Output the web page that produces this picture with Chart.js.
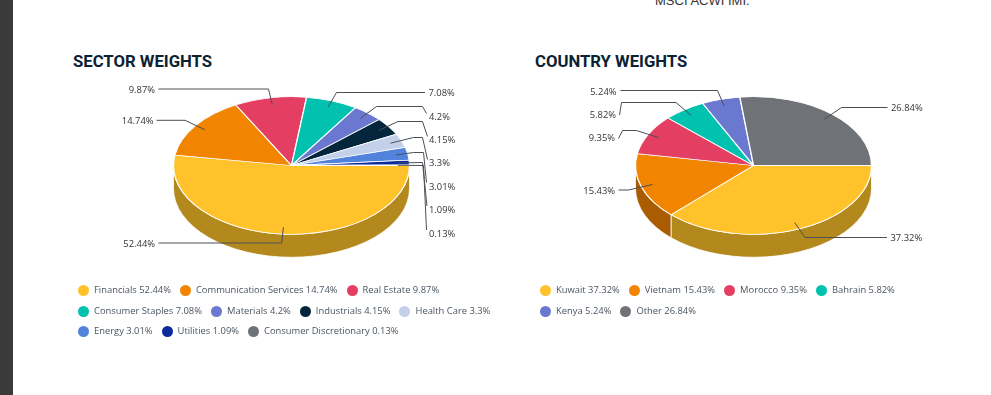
<!DOCTYPE html>
<html lang="en">

<head>
    <meta charset="UTF-8">
    <title>Sector and country weights</title>
    <style>
        html, body { margin: 0; padding: 0; background: #fff; }
        body { position: relative; width: 991px; height: 395px; overflow: hidden; }
        #strip { position: absolute; left: 0; top: 0; width: 13px; height: 395px; background: #3a3a3a; }
        #note { position: absolute; left: 655px; top: -7px; font: 13px "Liberation Sans", Arial, sans-serif; color: #333; white-space: nowrap; }
        h2 { position: absolute; top: 52px; margin: 0; font: 700 16.7px/20px Roboto, sans-serif; color: #0b2233; white-space: nowrap; }
        #sectorTitle { left: 73px; }
        #countryTitle { left: 535px; }
        .pieBox { position: absolute; top: 41px; width: 459px; height: 249px; }
        .legend { position: absolute; top: 280px; display: flex; flex-wrap: wrap; font: 9.4px/20.7px "Open Sans", sans-serif; color: #4a5560; }
        .legend span { display: flex; align-items: center; margin-right: 9px; white-space: nowrap; }
        .legend i { width: 11px; height: 11px; border-radius: 50%; margin-right: 5px; }
        #sectorLegend { left: 78px; width: 432px; }
        #countryLegend { left: 540px; width: 400px; }
    </style>
</head>

<body>
    <div id="strip"></div>
    <div id="note">MSCI ACWI IMI.</div>
    <h2 id="sectorTitle">SECTOR WEIGHTS</h2>
    <h2 id="countryTitle">COUNTRY WEIGHTS</h2>
    <div class="pieBox" style="left:62px"><canvas id="sectorChart"></canvas></div>
    <div class="pieBox" style="left:524px"><canvas id="countryChart"></canvas></div>
    <div class="legend" id="sectorLegend"></div>
    <div class="legend" id="countryLegend"></div>

    <script src="https://cdn.jsdelivr.net/npm/chart.js@4"></script>
    <script type="text/javascript">
        var sectorLabels = ['Financials', 'Communication Services', 'Real Estate', 'Consumer Staples', 'Materials', 'Industrials', 'Health Care', 'Energy', 'Utilities', 'Consumer Discretionary'];
        var sectorValues = [52.44, 14.74, 9.87, 7.08, 4.2, 4.15, 3.3, 3.01, 1.09, 0.13];
        var sectorColors = ['#ffc22a', '#f18500', '#e43f63', '#00c2ae', '#6b78d0', '#03263c', '#c3d0ea', '#5183dd', '#0a2a9d', '#6f7377'];

        var countryLabels = ['Kuwait', 'Vietnam', 'Morocco', 'Bahrain', 'Kenya', 'Other'];
        var countryValues = [37.32, 15.43, 9.35, 5.82, 5.24, 26.84];
        var countryColors = ['#ffc22a', '#f18500', '#e43f63', '#00c2ae', '#6b78d0', '#6f7377'];

        //where the callout texts sit, measured from the middle of the pie
        var sectorCallouts = [
            { x: -136.5, y: 79, align: 'right', bends: [[-9.8, 77.5], [-133, 77.5]] },
            { x: -138, y: -44, align: 'right', bends: [[-106.5, -45.2], [-135, -45.2]] },
            { x: -136.5, y: -75, align: 'right', bends: [[-23, -76.5], [-133, -76.5]] },
            { x: 137, y: -72, align: 'left', bends: [[45, -73], [133.5, -73]] },
            { x: 137.5, y: -48, align: 'left', bends: [[85, -59], [131, -59], [135, -52]] },
            { x: 137.5, y: -25, align: 'left', bends: [[106.5, -44], [131, -44], [136, -29]] },
            { x: 137.5, y: -2, align: 'left', bends: [[122, -28], [131, -28], [136, -6]] },
            { x: 137.5, y: 22, align: 'left', bends: [[122, -13], [132, -13], [135, 17]] },
            { x: 137.5, y: 45, align: 'left', bends: [[131, -3], [135.5, 40.5]] },
            { x: 137.5, y: 69, align: 'left', bends: [[132, 0], [135, 64.5]] }
        ];
        var countryCallouts = [
            { x: 137, y: 73, align: 'left', bends: [[51.5, 72], [133.5, 72]] },
            { x: -138.5, y: 26, align: 'right', bends: [[-125, 24.5], [-135, 24.5]] },
            { x: -138.5, y: -27, align: 'right', bends: [[-117, -35], [-131, -35], [-135, -27]] },
            { x: -137.5, y: -50, align: 'right', bends: [[-77.5, -63], [-132, -63], [-134, -50.5]] },
            { x: -137, y: -73, align: 'right', bends: [[-36, -75], [-133, -75]] },
            { x: 137.5, y: -57, align: 'left', bends: [[88, -58], [134, -58]] }
        ];

        var TILT = 0.583;   //height of the ellipse against its width
        var DEPTH = 23;     //thickness of the pie in px

        function darker(hex) {
            var n = parseInt(hex.slice(1), 16);
            var r = Math.round((n >> 16) * 0.7), g = Math.round(((n >> 8) & 255) * 0.7), b = Math.round((n & 255) * 0.7);
            return 'rgb(' + r + ',' + g + ',' + b + ')';
        }

        var pie3d = {
            id: 'pie3d',
            beforeDatasetDraw: function (chart) {
                var ctx = chart.ctx;
                var arcs = chart.getDatasetMeta(0).data;
                //side wall, only the front half of each slice shows
                arcs.forEach(function (arc, i) {
                    var a0 = Math.max(arc.startAngle, 0), a1 = Math.min(arc.endAngle, Math.PI);
                    if (a1 <= a0) return;
                    var r = arc.outerRadius;
                    ctx.beginPath();
                    ctx.ellipse(arc.x, arc.y, r, r * TILT, 0, a0, a1);
                    ctx.ellipse(arc.x, arc.y + DEPTH, r, r * TILT, 0, a1, a0, true);
                    ctx.closePath();
                    ctx.fillStyle = darker(chart.data.datasets[0].backgroundColor[i]);
                    ctx.fill();
                    ctx.strokeStyle = 'rgba(255,255,255,0.8)';
                    ctx.lineWidth = 1;
                    ctx.stroke();
                });
                //top face is the normal pie, squashed around its middle
                var c = arcs[0];
                ctx.save();
                ctx.translate(c.x, c.y);
                ctx.scale(1, TILT);
                ctx.translate(-c.x, -c.y);
            },
            afterDatasetDraw: function (chart) {
                chart.ctx.restore();
            },
            afterDraw: function (chart, args, opts) {
                var ctx = chart.ctx;
                var ds = chart.data.datasets[0];
                chart.getDatasetMeta(0).data.forEach(function (arc, i) {
                    var spot = opts.callouts[i];
                    var mid = (arc.startAngle + arc.endAngle) / 2;
                    var r = arc.outerRadius * 0.9;
                    ctx.beginPath();
                    ctx.moveTo(arc.x + r * Math.cos(mid), arc.y + r * TILT * Math.sin(mid));
                    spot.bends.forEach(function (p) {
                        ctx.lineTo(arc.x + p[0], arc.y + p[1]);
                    });
                    ctx.strokeStyle = '#4b5056';
                    ctx.lineWidth = 1;
                    ctx.stroke();
                    ctx.font = '9.4px "Open Sans", sans-serif';
                    ctx.fillStyle = '#333';
                    ctx.textAlign = spot.align;
                    ctx.textBaseline = 'middle';
                    ctx.fillText(ds.data[i] + '%', arc.x + spot.x, arc.y + spot.y);
                });
            }
        };

        function makePie(id, labels, values, colors, callouts) {
            new Chart(document.getElementById(id), {
                type: 'pie',
                data: {
                    labels: labels,
                    datasets: [{
                        data: values,
                        backgroundColor: colors,
                        borderColor: '#fff',
                        borderWidth: 1.3
                    }]
                },
                options: {
                    responsive: true,
                    maintainAspectRatio: false,
                    animation: false,
                    rotation: 90,
                    radius: 118,
                    events: [],
                    plugins: {
                        legend: { display: false },
                        tooltip: { enabled: false },
                        pie3d: { callouts: callouts }
                    }
                },
                plugins: [pie3d]
            });
        }

        function makeLegend(id, labels, values, colors) {
            var box = document.getElementById(id);
            labels.forEach(function (name, i) {
                var item = document.createElement('span');
                var dot = document.createElement('i');
                dot.style.background = colors[i];
                item.appendChild(dot);
                item.appendChild(document.createTextNode(name + ' ' + values[i] + '%'));
                box.appendChild(item);
            });
        }

        makePie('sectorChart', sectorLabels, sectorValues, sectorColors, sectorCallouts);
        makePie('countryChart', countryLabels, countryValues, countryColors, countryCallouts);
        makeLegend('sectorLegend', sectorLabels, sectorValues, sectorColors);
        makeLegend('countryLegend', countryLabels, countryValues, countryColors);
    </script>
</body>

</html>
